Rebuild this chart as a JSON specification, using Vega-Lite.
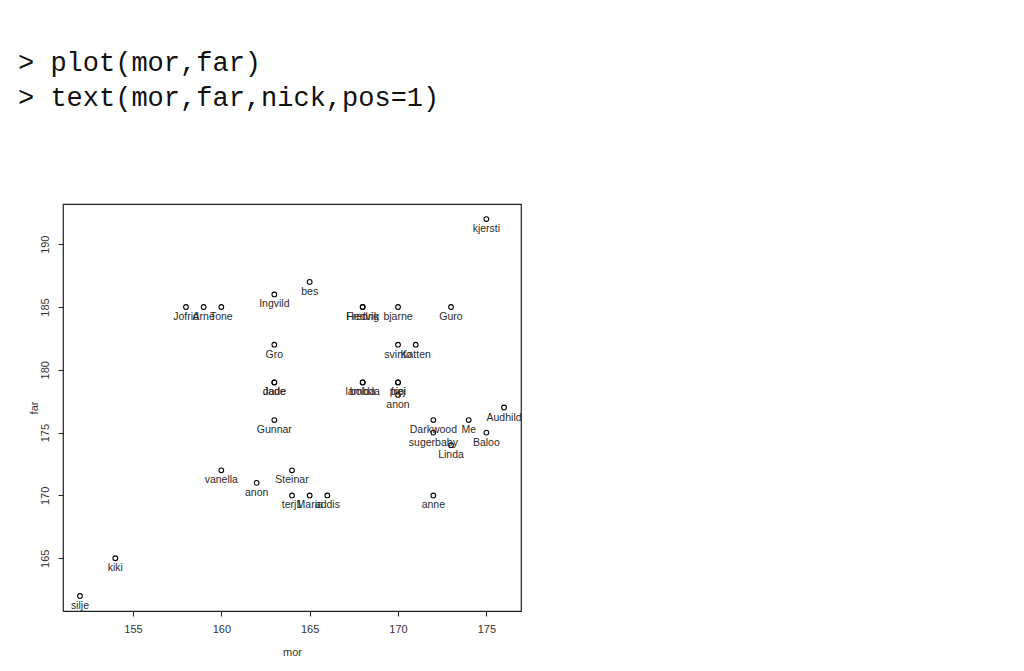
{
  "$schema": "https://vega.github.io/schema/vega-lite/v6.json",
  "width": 458,
  "height": 407,
  "autosize": {"type": "none"},
  "padding": {"left": 63, "top": 204, "right": 503, "bottom": 60},
  "background": "white",
  "config": {
    "view": {"stroke": "#222", "strokeWidth": 1.2},
    "font": "Liberation Sans"
  },
  "title": {
    "text": ["> plot(mor,far)", "> text(mor,far,nick,pos=1)"],
    "anchor": "start",
    "frame": "group",
    "orient": "top",
    "dx": -45,
    "offset": 92,
    "font": "Liberation Mono",
    "fontSize": 27,
    "fontWeight": "normal",
    "lineHeight": 35,
    "color": "#111"
  },
  "data": {
    "values": [
      {"mor": 152, "far": 162, "nick": "silje"},
      {"mor": 154, "far": 165, "nick": "kiki"},
      {"mor": 158, "far": 185, "nick": "Jofrid"},
      {"mor": 159, "far": 185, "nick": "Arne"},
      {"mor": 160, "far": 185, "nick": "Tone"},
      {"mor": 163, "far": 186, "nick": "Ingvild"},
      {"mor": 165, "far": 187, "nick": "bes"},
      {"mor": 163, "far": 182, "nick": "Gro"},
      {"mor": 163, "far": 179, "nick": "Jade"},
      {"mor": 163, "far": 179, "nick": "dade"},
      {"mor": 163, "far": 176, "nick": "Gunnar"},
      {"mor": 160, "far": 172, "nick": "vanella"},
      {"mor": 162, "far": 171, "nick": "anon"},
      {"mor": 164, "far": 172, "nick": "Steinar"},
      {"mor": 164, "far": 170, "nick": "terj1"},
      {"mor": 165, "far": 170, "nick": "Maria"},
      {"mor": 166, "far": 170, "nick": "addis"},
      {"mor": 168, "far": 185, "nick": "Fredrik"},
      {"mor": 168, "far": 185, "nick": "Hedvig"},
      {"mor": 170, "far": 185, "nick": "bjarne"},
      {"mor": 173, "far": 185, "nick": "Guro"},
      {"mor": 170, "far": 182, "nick": "svinto"},
      {"mor": 171, "far": 182, "nick": "Katten"},
      {"mor": 168, "far": 179, "nick": "lambda"},
      {"mor": 168, "far": 179, "nick": "bolda"},
      {"mor": 170, "far": 179, "nick": "pipi"},
      {"mor": 170, "far": 179, "nick": "frej"},
      {"mor": 170, "far": 178, "nick": "anon"},
      {"mor": 172, "far": 176, "nick": "Darkwood"},
      {"mor": 172, "far": 175, "nick": "sugerbaby"},
      {"mor": 173, "far": 174, "nick": "Linda"},
      {"mor": 174, "far": 176, "nick": "Me"},
      {"mor": 175, "far": 175, "nick": "Baloo"},
      {"mor": 176, "far": 177, "nick": "Audhild"},
      {"mor": 172, "far": 170, "nick": "anne"},
      {"mor": 175, "far": 192, "nick": "kjersti"}
    ]
  },
  "encoding": {
    "x": {
      "field": "mor", "type": "quantitative",
      "scale": {"domain": [151.04, 176.96], "nice": false, "zero": false},
      "axis": {
        "title": "mor", "values": [155, 160, 165, 170, 175],
        "domain": false, "grid": false, "ticks": true, "tickSize": 5, "tickColor": "#222",
        "labelFontSize": 11, "labelColor": "#333", "labelPadding": 7,
        "titleFontSize": 11, "titleFontWeight": "normal", "titleColor": "#333", "titlePadding": 12
      }
    },
    "y": {
      "field": "far", "type": "quantitative",
      "scale": {"domain": [160.8, 193.2], "nice": false, "zero": false},
      "axis": {
        "title": "far", "values": [165, 170, 175, 180, 185, 190],
        "domain": false, "grid": false, "ticks": true, "tickSize": 5, "tickColor": "#222",
        "labelFontSize": 11, "labelColor": "#333", "labelAngle": 270,
        "labelAlign": "center", "labelBaseline": "bottom", "labelPadding": 8,
        "titleFontSize": 11, "titleFontWeight": "normal", "titleColor": "#333", "titlePadding": 0
      }
    }
  },
  "layer": [
    {
      "mark": {"type": "point", "shape": "circle", "filled": false, "size": 22, "stroke": "black", "strokeWidth": 1.1, "opacity": 1}
    },
    {
      "mark": {"type": "text", "baseline": "top", "align": "center", "dy": 5, "fontSize": 10.5, "fill": "#2a2a2a"},
      "encoding": {"text": {"field": "nick", "type": "nominal"}}
    }
  ]
}
